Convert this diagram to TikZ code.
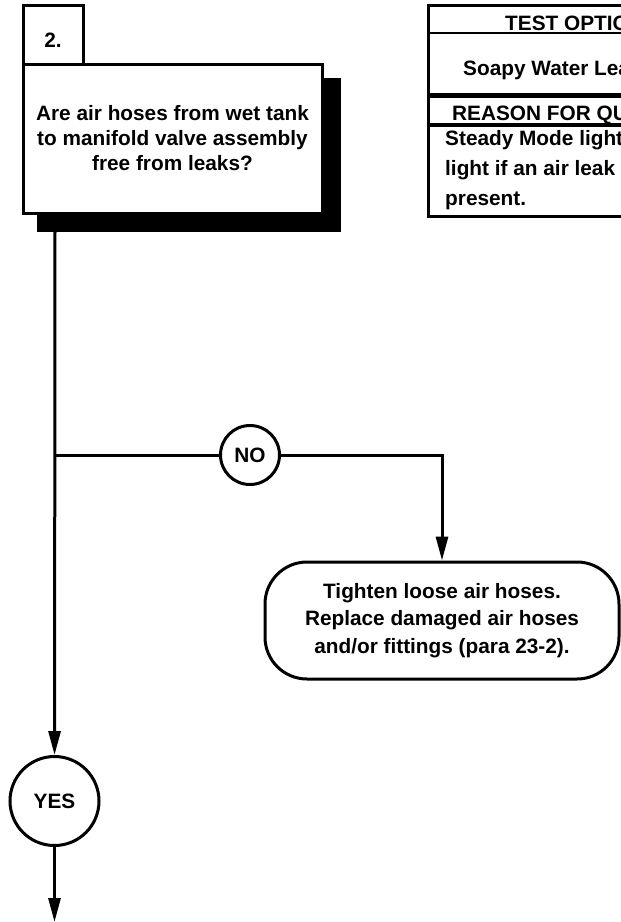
\documentclass[tikz,border=0pt]{standalone}
\usepackage{fontspec}
\setmainfont{Liberation Sans}
\usetikzlibrary{arrows.meta}
\begin{document}
\begin{tikzpicture}[x=1pt,y=-1pt,
  every node/.style={font=\bfseries\fontsize{20.8}{25}\selectfont, inner sep=0pt},
  ln/.style={line width=3pt},
  arr/.style={ln,-{Triangle[length=24pt,width=12pt]}},
  circ/.style={circle,draw,ln,fill=white},
  boxst/.style={draw,ln,fill=white,align=center},
  tline/.style={anchor=base west}]
\useasboundingbox (0,0) rectangle (621,922);

% question box with shadow
\node[fill=black,minimum width=304pt,minimum height=154pt] (shadow) at (189,155) {};
\node[boxst,minimum width=299pt,minimum height=149pt] (q) at (172.5,138.5)
  {Are air hoses from wet tank\\to manifold valve assembly\\free from leaks?};
\node[draw,ln,fill=white,minimum width=60pt,minimum height=59pt] (num) at (53,34.5) {};
\node (numtxt) at (53,40) {2.};

% table (cut by the right edge, as in the reference)
\begin{scope}
\clip (0,0) rectangle (621,922);
\draw[ln] (700,5) -- (428,5) -- (428,216) -- (700,216);
\draw[line width=2pt] (428,33) -- (700,33);
\draw[line width=5pt] (428,95.5) -- (700,95.5);
\draw[line width=4pt] (428,124.5) -- (700,124.5);
\node[tline] (t1) at (505,30) {TEST OPTIONS};
\node[tline] (t2) at (463,75) {Soapy Water Leak};
\node[tline] (t3) at (452,120) {REASON FOR QUESTION};
\node[tline] (p1) at (445,145) {Steady Mode light will};
\node[tline] (p2) at (445,175) {light if an air leak is};
\node[tline] (p3) at (445,205) {present.};
\end{scope}

% flow
\coordinate (start) at (55,232);
\coordinate (junc) at (55,455);
\node[circ,minimum size=59pt] (no) at (250,455) {NO};
\node[circ,minimum size=89pt] (yes) at (54.5,801) {YES};
\node[boxst,rounded corners=42pt,minimum width=354pt,minimum height=117pt,
  font=\bfseries\fontsize{20.8}{27.5}\selectfont] (act) at (442,620.5)
  {Tighten loose air hoses.\\Replace damaged air hoses\\and/or fittings (para 23-2).};
\coordinate (end) at (54.5,922);

\draw[arr] (start) -- (yes);
\draw[ln] (junc) -- (no);
\draw[arr] (no) -| (act);
\draw[arr] (yes) -- (end);
\end{tikzpicture}
\end{document}
